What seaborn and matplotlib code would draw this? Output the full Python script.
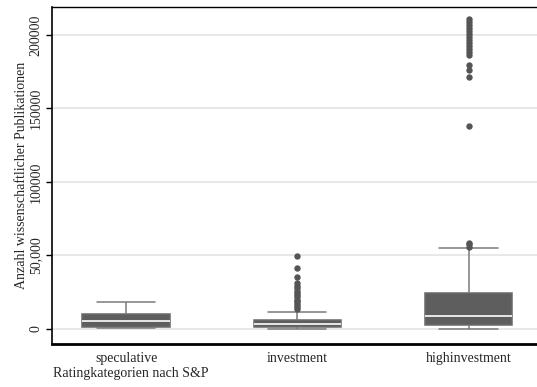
import matplotlib.pyplot as plt
import numpy as np
import pandas as pd
import seaborn as sns

categories = ["speculative", "investment", "highinvestment"]

# box summaries: lower whisker, q1, median, q3, upper whisker
speculative_box = [500, 1500, 5400, 10200, 18400]
investment_box = [100, 1300, 3200, 6100, 11600]
highinvestment_box = [200, 2700, 8800, 24500, 55000]

# outside values (dots)
investment_out = [13500, 15000, 16000, 17500, 19000, 20000, 21500, 23000,
                  24500, 26000, 28000, 29500, 31000, 35500, 41500, 49500]
highinvestment_out = [56000, 57500, 58500, 138000, 171500, 176000, 179500,
                      186500, 188500, 190500, 192500, 194500, 196500, 198500,
                      200500, 202500, 204500, 206500, 208500, 211000]

yticks = [0, 50000, 100000, 150000, 200000]
ytick_labels = ["0", "50,000", "100000", "150000", "200000"]

sns.set_theme(style="white")
plt.rcParams["font.family"] = ["Liberation Serif", "DejaVu Serif"]

df_box = pd.DataFrame({
    "kat": np.repeat(categories, 5),
    "n": speculative_box + investment_box + highinvestment_box,
})
df_out = pd.DataFrame({
    "kat": ["investment"] * len(investment_out) + ["highinvestment"] * len(highinvestment_out),
    "n": investment_out + highinvestment_out,
})

fig = plt.figure(figsize=(5.37, 3.87), dpi=100)
ax = fig.add_axes([52 / 537, 1 - 344 / 387, 1 - 52 / 537, 337 / 387])

sns.boxplot(data=df_box, x="kat", y="n", order=categories, ax=ax,
            whis=np.inf, showfliers=False, width=0.51, color="#5e5e5e",
            saturation=1, linecolor="#6a6a6a", linewidth=1.1,
            medianprops={"color": "#f2f2f2", "linewidth": 1.3},
            whiskerprops={"color": "#7a7a7a"}, capprops={"color": "#7a7a7a"},
            capwidths=0.34)
sns.stripplot(data=df_out, x="kat", y="n", order=categories, ax=ax,
              jitter=False, color="#555555", size=4.6, linewidth=0)

ax.set_xlim(-0.433, 2.40)
ax.set_ylim(-10200, 219000)
ax.set_yticks(yticks)
ax.set_yticklabels(ytick_labels, rotation=90, va="center")
ax.yaxis.grid(True, color="#e6e6e6", linewidth=1.3)
ax.set_axisbelow(True)
ax.tick_params(axis="y", left=True, length=4, width=1, color="black", pad=3, labelsize=10)
ax.tick_params(axis="x", bottom=False, pad=0, labelsize=10)
ax.set_xlabel("")
ax.set_ylabel("Anzahl wissenschaftlicher Publikationen", fontsize=10, labelpad=1)

for side in ["left", "top", "bottom"]:
    ax.spines[side].set_color("black")
ax.spines["left"].set_linewidth(1.2)
ax.spines["top"].set_linewidth(1.0)
ax.spines["bottom"].set_linewidth(2.0)
ax.spines["right"].set_visible(False)

fig.text(53 / 537, 1 - 374 / 387, "Ratingkategorien nach S&P", ha="left",
         va="center", fontsize=10)

fig.savefig("out.png", dpi=100)
